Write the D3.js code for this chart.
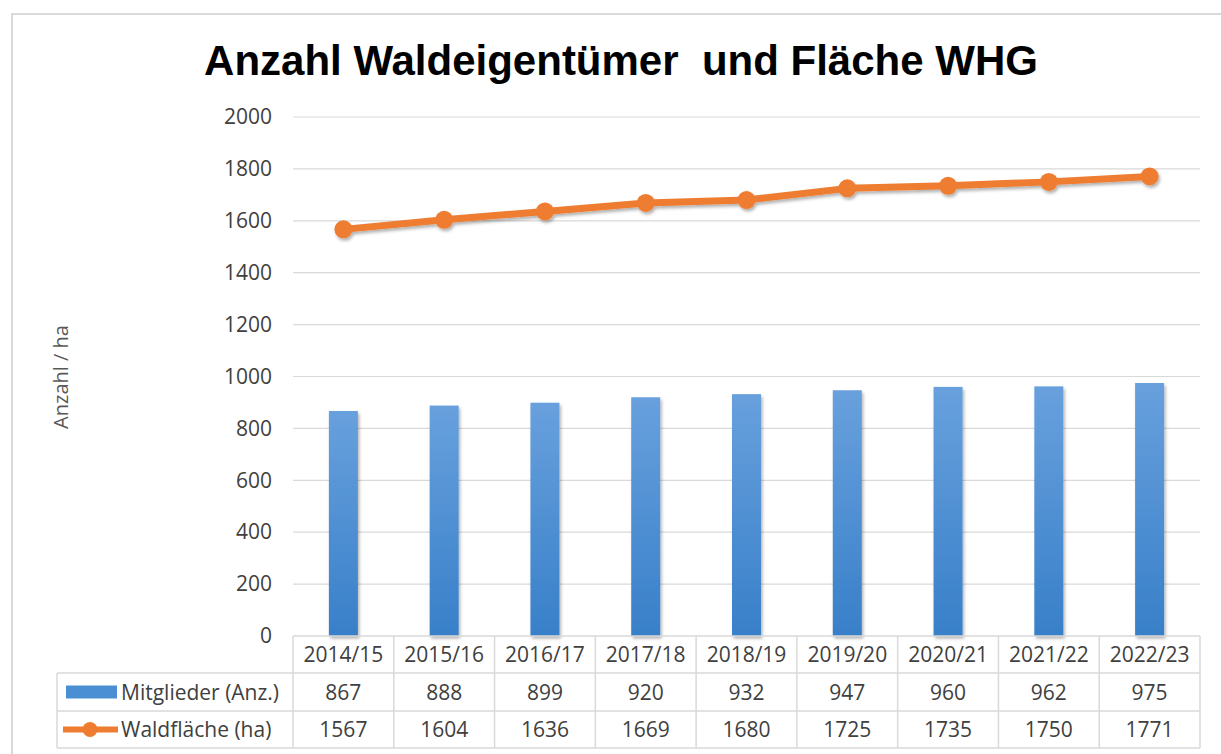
<!DOCTYPE html>
<html>
<head>
<meta charset="utf-8">
<script src="https://cdn.jsdelivr.net/npm/d3@7"></script>
<style>
  body { margin: 0; background: #fff; }
  text { font-family: "Open Sans", sans-serif; }
</style>
</head>
<body>
<div id="chart"></div>
<script>
var categories = ["2014/15", "2015/16", "2016/17", "2017/18", "2018/19", "2019/20", "2020/21", "2021/22", "2022/23"];
var mitglieder = [867, 888, 899, 920, 932, 947, 960, 962, 975];
var waldflaeche = [1567, 1604, 1636, 1669, 1680, 1725, 1735, 1750, 1771];
var yTicks = [0, 200, 400, 600, 800, 1000, 1200, 1400, 1600, 1800, 2000];
var seriesNames = ["Mitglieder (Anz.)", "Waldfläche (ha)"];

var W = 1221, H = 754;
var plot = { left: 293, right: 1200, top: 117, bottom: 636 };
var fs = "21px";

var svg = d3.select("#chart").append("svg")
  .attr("width", W).attr("height", H);

var defs = svg.append("defs");
var grad = defs.append("linearGradient")
  .attr("id", "barGrad").attr("x1", 0).attr("y1", 0).attr("x2", 0).attr("y2", 1);
grad.append("stop").attr("offset", "0%").attr("stop-color", "#68a0dd");
grad.append("stop").attr("offset", "100%").attr("stop-color", "#3880c9");

var shadow = defs.append("filter").attr("id", "shadow")
  .attr("x", "-20%").attr("y", "-20%").attr("width", "140%").attr("height", "140%");
shadow.append("feDropShadow")
  .attr("dx", 1.5).attr("dy", 2.5).attr("stdDeviation", 1.8)
  .attr("flood-color", "#000").attr("flood-opacity", 0.3);

// outer frame
svg.append("rect")
  .attr("x", 12).attr("y", 14)
  .attr("width", W + 10).attr("height", H + 10)
  .attr("fill", "none").attr("stroke", "#d9d9d9").attr("stroke-width", 2);

// title
svg.append("text")
  .attr("x", 621).attr("y", 75)
  .attr("text-anchor", "middle")
  .style("white-space", "pre")
  .style("font-family", "'Liberation Sans', Arial, sans-serif")
  .style("font-weight", "bold")
  .style("font-size", "42px")
  .attr("fill", "#000")
  .text("Anzahl Waldeigentümer  und Fläche WHG");

var x = d3.scaleBand().domain(categories).range([plot.left, plot.right]);
var y = d3.scaleLinear().domain([0, 2000]).range([plot.bottom, plot.top]);

// gridlines
svg.append("g")
  .selectAll("line")
  .data(yTicks.filter(function(d) { return d > 0; }))
  .enter().append("line")
  .attr("x1", plot.left).attr("x2", plot.right)
  .attr("y1", function(d) { return y(d); })
  .attr("y2", function(d) { return y(d); })
  .attr("stroke", "#d9d9d9").attr("stroke-width", 1.2);

// y axis labels
var yAxis = d3.axisLeft(y).tickValues(yTicks).tickFormat(d3.format("d"))
  .tickSize(0).tickPadding(21);
var yg = svg.append("g")
  .attr("transform", "translate(" + plot.left + ",0)")
  .call(yAxis);
yg.select(".domain").remove();
yg.selectAll("text")
  .style("font-family", "'Open Sans', sans-serif")
  .style("font-size", fs)
  .attr("fill", "#404040");

// y axis title
svg.append("text")
  .attr("transform", "translate(68,377) rotate(-90)")
  .attr("text-anchor", "middle")
  .style("font-size", "20px")
  .attr("fill", "#595959")
  .text("Anzahl / ha");

// bars
var barW = 29;
svg.append("g")
  .selectAll("rect")
  .data(mitglieder)
  .enter().append("rect")
  .attr("x", function(d, i) { return x(categories[i]) + x.bandwidth() / 2 - barW / 2; })
  .attr("y", function(d) { return y(d); })
  .attr("width", barW)
  .attr("height", function(d) { return plot.bottom - y(d); })
  .attr("fill", "url(#barGrad)")
  .attr("filter", "url(#shadow)");

// line
var line = d3.line()
  .x(function(d, i) { return x(categories[i]) + x.bandwidth() / 2; })
  .y(function(d) { return y(d); });

var lg = svg.append("g").attr("filter", "url(#shadow)");
lg.append("path")
  .datum(waldflaeche)
  .attr("d", line)
  .attr("fill", "none")
  .attr("stroke", "#ee7d31")
  .attr("stroke-width", 7)
  .attr("stroke-linejoin", "round");
lg.selectAll("circle")
  .data(waldflaeche)
  .enter().append("circle")
  .attr("cx", function(d, i) { return x(categories[i]) + x.bandwidth() / 2; })
  .attr("cy", function(d) { return y(d); })
  .attr("r", 9)
  .attr("fill", "#ee7d31");

// data table
var rowTop = [636, 673, 711];
var rowBottom = 748;
var legendLeft = 57;
var border = "#d9d9d9";
var tg = svg.append("g");

// horizontal lines
tg.append("line").attr("x1", plot.left).attr("x2", plot.right)
  .attr("y1", rowTop[0]).attr("y2", rowTop[0]).attr("stroke", border).attr("stroke-width", 1.5);
[rowTop[1], rowTop[2], rowBottom].forEach(function(yy) {
  tg.append("line").attr("x1", legendLeft).attr("x2", plot.right)
    .attr("y1", yy).attr("y2", yy).attr("stroke", border).attr("stroke-width", 1.5);
});
// vertical lines
tg.append("line").attr("x1", legendLeft).attr("x2", legendLeft)
  .attr("y1", rowTop[1]).attr("y2", rowBottom).attr("stroke", border).attr("stroke-width", 1.5);
categories.forEach(function(c) {
  tg.append("line").attr("x1", x(c)).attr("x2", x(c))
    .attr("y1", rowTop[0]).attr("y2", rowBottom).attr("stroke", border).attr("stroke-width", 1.5);
});
tg.append("line").attr("x1", plot.right).attr("x2", plot.right)
  .attr("y1", rowTop[0]).attr("y2", rowBottom).attr("stroke", border).attr("stroke-width", 1.5);

var rowsData = [categories, mitglieder, waldflaeche];
var rowMid = [rowTop[0] + 18.5, rowTop[1] + 19, rowTop[2] + 18.5];
rowsData.forEach(function(row, r) {
  tg.selectAll(".cell" + r)
    .data(row)
    .enter().append("text")
    .attr("x", function(d, i) { return x(categories[i]) + x.bandwidth() / 2; })
    .attr("y", rowMid[r])
    .attr("dy", "0.36em")
    .attr("text-anchor", "middle")
    .style("font-size", fs)
    .attr("fill", "#404040")
    .text(function(d) { return d; });
});

// legend keys
tg.append("rect")
  .attr("x", 66).attr("y", rowMid[1] - 6.5)
  .attr("width", 51).attr("height", 13)
  .attr("fill", "#4a8fd4");
tg.append("line")
  .attr("x1", 63).attr("x2", 118)
  .attr("y1", rowMid[2]).attr("y2", rowMid[2])
  .attr("stroke", "#ee7d31").attr("stroke-width", 6);
tg.append("circle")
  .attr("cx", 90).attr("cy", rowMid[2]).attr("r", 7.5)
  .attr("fill", "#ee7d31");

seriesNames.forEach(function(name, i) {
  tg.append("text")
    .attr("x", 121)
    .attr("y", rowMid[i + 1])
    .attr("dy", "0.36em")
    .style("font-size", fs)
    .attr("fill", "#404040")
    .text(name);
});
</script>
</body>
</html>
